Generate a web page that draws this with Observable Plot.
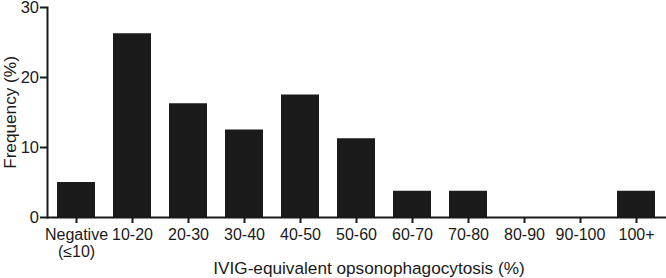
<!DOCTYPE html>
<html>
<head>
<meta charset="utf-8">
<script src="https://cdn.jsdelivr.net/npm/d3@7"></script>
<script src="https://cdn.jsdelivr.net/npm/@observablehq/plot@0.6"></script>
<style>
  html, body { margin: 0; padding: 0; background: #fff; }
</style>
</head>
<body>
<div id="chart"></div>
<script>
const categories = ["Negative\n(≤10)", "10-20", "20-30", "30-40", "40-50", "50-60", "60-70", "70-80", "80-90", "90-100", "100+"];
const frequency = [5, 26.25, 16.25, 12.5, 17.5, 11.25, 3.75, 3.75, 0, 0, 3.75];
const yTicks = [0, 10, 20, 30];
const xTitle = "IVIG-equivalent opsonophagocytosis (%)";
const yTitle = "Frequency (%)";

const data = categories.map((c, i) => ({category: c, value: frequency[i]}));
const ink = "#1a1a1a";

const chart = Plot.plot({
  width: 666,
  height: 278,
  marginLeft: 47,
  marginRight: 0,
  marginTop: 7,
  marginBottom: 61,
  style: {fontFamily: "'Liberation Sans', Arial, sans-serif", fontSize: "16px", color: ink, background: "#fff"},
  x: {type: "band", domain: categories, paddingInner: 0.32, paddingOuter: 0.18, align: 0.5},
  y: {domain: [0, 30]},
  marks: [
    Plot.barY(data, {x: "category", y: "value", fill: ink}),
    Plot.ruleY([0], {stroke: ink, strokeWidth: 2}),
    Plot.frame({anchor: "left", stroke: ink, strokeWidth: 2}),
    Plot.axisX({tickSize: 6, tickPadding: 4, strokeWidth: 2, stroke: ink, fill: ink, fontSize: 16, lineHeight: 1.06, label: null}),
    Plot.axisY({ticks: yTicks, tickSize: 7, tickPadding: 1.5, strokeWidth: 2, stroke: ink, fill: ink, fontSize: 16.5, label: null}),
    Plot.text([xTitle], {frameAnchor: "bottom", dx: 12, dy: 56, lineAnchor: "bottom", fontSize: 17.2, fill: ink}),
    Plot.text([yTitle], {frameAnchor: "left", rotate: -90, dx: -32, textAnchor: "middle", lineAnchor: "bottom", fontSize: 17.2, fill: ink})
  ]
});
document.getElementById("chart").appendChild(chart);
</script>
</body>
</html>
